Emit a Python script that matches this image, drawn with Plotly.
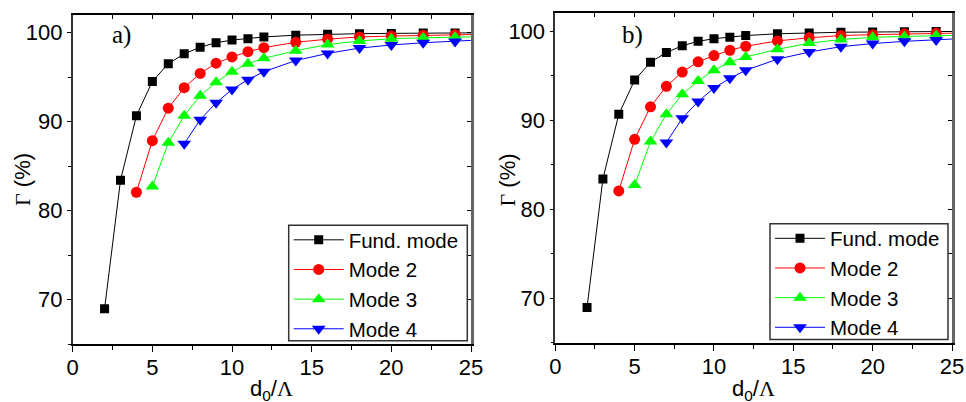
import plotly.graph_objects as go

# Confinement factor (%) versus d0/Lambda for the first four modes
x_fund = [2, 3, 4, 5, 6, 7, 8, 9, 10, 11, 12, 14, 16, 18, 20, 22, 24, 26]
y_fund = [68.95, 83.4, 90.65, 94.5, 96.5, 97.6, 98.35, 98.85, 99.15, 99.3, 99.5,
          99.7, 99.8, 99.87, 99.9, 99.93, 99.95, 99.97]

x_m2 = [4, 5, 6, 7, 8, 9, 10, 11, 12, 14, 16, 18, 20, 22, 24, 26]
y_m2 = [82.05, 87.85, 91.5, 93.8, 95.4, 96.55, 97.25, 97.85, 98.3,
        98.9, 99.25, 99.5, 99.6, 99.7, 99.75, 99.8]

x_m3 = [5, 6, 7, 8, 9, 10, 11, 12, 14, 16, 18, 20, 22, 24, 26]
y_m3 = [82.7, 87.6, 90.65, 92.9, 94.4, 95.6, 96.5, 97.1,
        97.95, 98.65, 99.05, 99.3, 99.4, 99.5, 99.55]

x_m4 = [7, 8, 9, 10, 11, 12, 14, 16, 18, 20, 22, 24, 26]
y_m4 = [87.5, 90.2, 92.1, 93.6, 94.7, 95.6, 96.85, 97.65, 98.25, 98.6, 98.85, 99.0, 99.2]

series = [
    ("Fund. mode", x_fund, y_fund, "#000000", "square", 9),
    ("Mode 2", x_m2, y_m2, "#ff0000", "circle", 11),
    ("Mode 3", x_m3, y_m3, "#00ff00", "triangle-up", 12),
    ("Mode 4", x_m4, y_m4, "#0000ff", "triangle-down", 12),
]

panel_labels = ["a)", "b)"]
x_title = "d<sub>0</sub>/<span style='font-family:Liberation Serif'>Λ</span>"
y_title = "<span style='font-family:Liberation Serif'>Γ</span> (%)"

W, H = 966, 402
SANS = "Liberation Sans"

fig = go.Figure()

# left panel uses x/y, right panel x2/y2
for p, (xa, ya, leg) in enumerate([("x", "y", "legend"), ("x2", "y2", "legend2")]):
    for name, xs, ys, col, sym, sz in series:
        fig.add_trace(go.Scatter(
            x=xs, y=ys, name=name, mode="lines+markers",
            line=dict(color=col, width=1),
            marker=dict(symbol=sym, size=sz, color=col, line=dict(width=0)),
            xaxis=xa, yaxis=ya, legend=leg,
        ))
    # empty traces so the mirror axes are drawn
    fig.add_trace(go.Scatter(x=[], y=[], showlegend=False, xaxis=["x3", "x4"][p], yaxis=ya))
    fig.add_trace(go.Scatter(x=[], y=[], showlegend=False, xaxis=xa, yaxis=["y3", "y4"][p]))

dom_x = [[72.7 / W, 471 / W], [555.3 / W, 952 / W]]
dom_y = [[1 - 344 / H, 1 - 14.7 / H], [1 - 342.7 / H, 1 - 13.3 / H]]

tickfont = dict(family=SANS, size=22, color="#000")

for i in range(2):
    sx = "" if i == 0 else "2"
    xk, yk = "xaxis" + sx, "yaxis" + sx
    xref, yref = "x" + sx, "y" + sx
    fig.layout[xk] = dict(
        domain=dom_x[i], anchor=yref, range=[0, 25], dtick=5, tick0=0,
        ticks="outside", ticklen=6, tickwidth=1.3, tickcolor="#000",
        minor=dict(ticks="outside", ticklen=4, dtick=2.5, tick0=0, tickcolor="#000", tickwidth=1.3, showgrid=False),
        showline=True, linecolor="#000", linewidth=1.6, showgrid=False, zeroline=False,
        tickfont=tickfont, automargin=False, ticklabelstandoff=-3,
    )
    fig.layout[yk] = dict(
        domain=dom_y[i], anchor=xref, range=[65, 102], dtick=10, tick0=0,
        ticks="outside", ticklen=4, tickwidth=1.3, tickcolor="#000",
        minor=dict(ticks="outside", ticklen=3, dtick=5, tick0=0, tickcolor="#000", tickwidth=1.3, showgrid=False),
        showline=True, linecolor="#333", linewidth=1.6, showgrid=False, zeroline=False,
        tickfont=tickfont, automargin=False,
    )
    # mirrored top and right frames with inward ticks
    mx = "xaxis" + ["3", "4"][i]
    my = "yaxis" + ["3", "4"][i]
    fig.layout[mx] = dict(
        overlaying=xref, side="top", anchor=yref, range=[0, 25], dtick=2.5, tick0=0,
        ticks="inside", ticklen=4, tickwidth=1.3, tickcolor="#000",
        showticklabels=False, showline=True, linecolor="#000", linewidth=2,
        showgrid=False, zeroline=False, automargin=False,
    )
    fig.layout[my] = dict(
        overlaying=yref, side="right", anchor=xref, range=[65, 102], dtick=5, tick0=0,
        ticks="inside", ticklen=4, tickwidth=1.3, tickcolor="#000",
        showticklabels=False, showline=True, linecolor="#666", linewidth=2.5,
        showgrid=False, zeroline=False, automargin=False,
    )

# legend frames drawn as boxes (tighter padding than the built-in border)
legend_boxes = [(288.7, 467.3, 225.3, 340.7), (770.0, 948.0, 223.7, 339.5)]
for x0, x1, y0, y1 in legend_boxes:
    fig.add_shape(type="rect", xref="paper", yref="paper",
                  x0=x0 / W, x1=x1 / W, y0=1 - y1 / H, y1=1 - y0 / H,
                  fillcolor="#fff", line=dict(color="#333", width=1.5), layer="above")

legend_style = dict(
    xanchor="left", yanchor="top", bgcolor="rgba(0,0,0,0)", borderwidth=0,
    font=dict(family=SANS, size=20.5, color="#000"),
    itemwidth=50, tracegroupgap=0,
)
fig.update_layout(
    legend=dict(x=288.7 / W, y=1 - 220 / H, **legend_style),
    legend2=dict(x=770 / W, y=1 - 218.5 / H, **legend_style),
)

ann = []
label_x = [110 / W, 620 / W]
ytitle_x = [23 / W, 507.5 / W]
xtitle_x = [(72.7 + 471) / 2 / W, (555.3 + 952) / 2 / W]
for i in range(2):
    ann.append(dict(text=panel_labels[i], x=label_x[i], y=1 - 35 / H, xref="paper", yref="paper",
                    xanchor="left", yanchor="middle", showarrow=False,
                    font=dict(family="Liberation Serif", size=25, color="#000")))
    ann.append(dict(text=y_title, x=ytitle_x[i], y=1 - 180 / H, xref="paper", yref="paper",
                    xanchor="center", yanchor="middle", textangle=-90, showarrow=False,
                    font=dict(family=SANS, size=22, color="#000")))
    ann.append(dict(text=x_title, x=xtitle_x[i], y=1 - 374 / H, xref="paper", yref="paper",
                    xanchor="center", yanchor="top", showarrow=False,
                    font=dict(family=SANS, size=22, color="#000")))

fig.update_layout(
    annotations=ann,
    width=W, height=H,
    margin=dict(l=0, r=0, t=0, b=0),
    paper_bgcolor="#fff", plot_bgcolor="#fff",
    template="none", showlegend=True,
)

fig.write_html("out.html")
